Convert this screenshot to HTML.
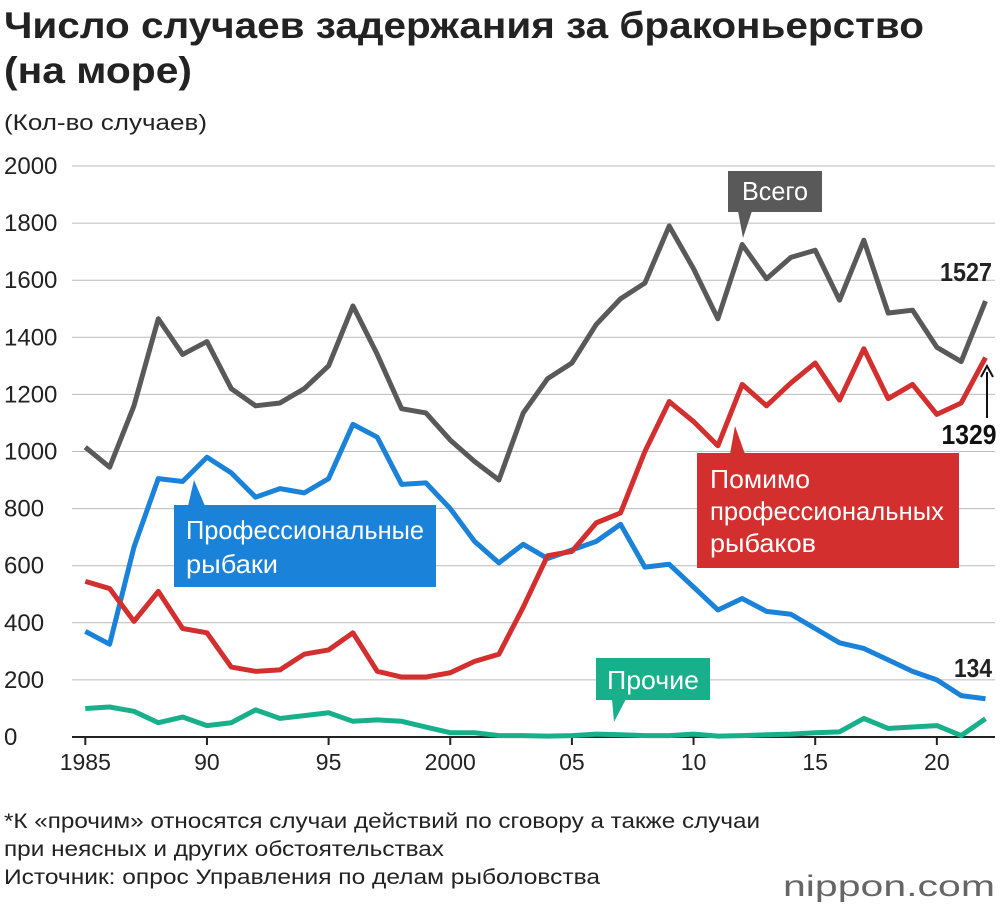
<!DOCTYPE html>
<html><head><meta charset="utf-8"><style>
body{margin:0;background:#fff;width:1000px;height:912px;overflow:hidden;font-family:"Liberation Sans",sans-serif}
svg{position:absolute;left:0;top:0}
</style></head><body>
<svg width="1000" height="912" id="c">
<text x="4" y="38" font-size="37" font-weight="bold" fill="#222" textLength="920" lengthAdjust="spacingAndGlyphs">Число случаев задержания за браконьерство</text>
<text x="4" y="83" font-size="37" font-weight="bold" fill="#222" textLength="188" lengthAdjust="spacingAndGlyphs">(на море)</text>
<text x="4" y="130" font-size="22" fill="#222" textLength="203" lengthAdjust="spacingAndGlyphs">(Кол-во случаев)</text>
<g id="grid"></g><g id="lines"></g>
<g><rect x="728" y="171" width="94" height="41" fill="#595959"/><polygon points="738,211 752,211 743,238" fill="#595959"/><text x="775" y="200" font-size="26" fill="#fff" text-anchor="middle" textLength="66" lengthAdjust="spacingAndGlyphs">Всего</text></g>
<g><rect x="174" y="505" width="262" height="82" fill="#1a82d8"/><polygon points="188,506 205,506 194,480" fill="#1a82d8"/><text x="186" y="539" font-size="26" fill="#fff" textLength="238" lengthAdjust="spacingAndGlyphs">Профессиональные</text><text x="186" y="573" font-size="26" fill="#fff" textLength="92" lengthAdjust="spacingAndGlyphs">рыбаки</text></g>
<g><rect x="697" y="453" width="262" height="115" fill="#d32f2f"/><polygon points="730,454 745,454 735,426" fill="#d32f2f"/><text x="710" y="488" font-size="26" fill="#fff" textLength="100" lengthAdjust="spacingAndGlyphs">Помимо</text><text x="710" y="520" font-size="26" fill="#fff" textLength="234" lengthAdjust="spacingAndGlyphs">профессиональных</text><text x="710" y="552" font-size="26" fill="#fff" textLength="106" lengthAdjust="spacingAndGlyphs">рыбаков</text></g>
<g><rect x="596" y="658" width="114" height="42" fill="#17b08a"/><polygon points="612,699 626,699 614,722" fill="#17b08a"/><text x="653" y="689" font-size="26" fill="#fff" text-anchor="middle" textLength="92" lengthAdjust="spacingAndGlyphs">Прочие</text></g>
<text x="966" y="281" font-size="26" font-weight="bold" fill="#222" text-anchor="middle" textLength="52" lengthAdjust="spacingAndGlyphs">1527</text>
<text x="969" y="444" font-size="28" font-weight="bold" fill="#111" text-anchor="middle" textLength="55" lengthAdjust="spacingAndGlyphs">1329</text>
<line x1="987" y1="418" x2="987" y2="372" stroke="#111" stroke-width="2"/><polyline points="981,377 987,366 993,377" fill="none" stroke="#111" stroke-width="2"/>
<text x="973" y="677" font-size="26" font-weight="bold" fill="#222" text-anchor="middle" textLength="38" lengthAdjust="spacingAndGlyphs">134</text>
<text x="4" y="828" font-size="21" fill="#222" textLength="756" lengthAdjust="spacingAndGlyphs">*К «прочим» относятся случаи действий по сговору а также случаи</text>
<text x="4" y="856" font-size="21" fill="#222" textLength="440" lengthAdjust="spacingAndGlyphs">при неясных и других обстоятельствах</text>
<text x="4" y="884" font-size="21" fill="#222" textLength="596" lengthAdjust="spacingAndGlyphs">Источник: опрос Управления по делам рыболовства</text>
<text x="995" y="896" font-size="30" fill="#666" text-anchor="end" textLength="212" lengthAdjust="spacingAndGlyphs">nippon.com</text>
</svg>
<script>
const years=[];for(let y=1985;y<=2022;y++)years.push(y);
const total=[1015,945,1160,1465,1340,1385,1220,1160,1170,1220,1300,1510,1340,1150,1135,1040,965,900,1135,1255,1310,1445,1535,1590,1790,1640,1465,1725,1605,1680,1705,1530,1740,1485,1495,1365,1315,1527];
const professional=[370,325,665,905,895,980,925,840,870,855,905,1095,1050,885,890,800,685,610,675,625,655,685,745,595,605,525,445,485,440,430,380,330,310,270,230,200,145,134];
const nonProfessional=[545,520,405,510,380,365,245,230,235,290,305,365,230,210,210,225,265,290,455,635,650,750,785,1000,1175,1105,1020,1235,1160,1240,1310,1180,1360,1185,1235,1130,1170,1329];
const other=[100,105,90,50,70,40,50,95,65,75,85,55,60,55,35,15,15,5,5,3,5,10,8,5,5,10,3,5,8,10,15,18,65,30,35,40,5,64];
const yTicks=[0,200,400,600,800,1000,1200,1400,1600,1800,2000];
const xTicks=[[1985,"1985"],[1990,"90"],[1995,"95"],[2000,"2000"],[2005,"05"],[2010,"10"],[2015,"15"],[2020,"20"]];
const X=y=>85.3+(y-1985)*24.33, Y=v=>737-v*0.2855;
const NS="http://www.w3.org/2000/svg";
const g=document.getElementById('grid'),L=document.getElementById('lines');
function mk(p,t,a){const e=document.createElementNS(NS,t);for(const k in a)e.setAttribute(k,a[k]);p.appendChild(e);return e;}
yTicks.forEach(v=>{
 const l=mk(g,'line',{x1:72,x2:995,y1:Y(v),y2:Y(v),stroke:v?'#bbb':'#222','stroke-width':v?1:2});
 
 
 const t=mk(g,'text',{x:4,y:Y(v)+8,'font-size':24,fill:'#222'});t.textContent=v;
 
 
});
xTicks.forEach(([y,s])=>{
 mk(g,'line',{x1:X(y),x2:X(y),y1:737,y2:745,stroke:'#222','stroke-width':2});
 const t=mk(g,'text',{x:X(y),y:770,'font-size':23,fill:'#222','text-anchor':'middle'});t.textContent=s;
 
 
});
[[other,'#17b08a','line-other'],[professional,'#1a82d8','line-professional'],[nonProfessional,'#d32f2f','line-non-professional'],[total,'#595959','line-total']].forEach(([d,c,n])=>{
 const p=mk(L,'polyline',{points:d.map((v,i)=>X(years[i])+','+Y(v)).join(' '),fill:'none',stroke:c,'stroke-width':5,'stroke-linejoin':'round'});
 
 
});
</script>
</body></html>
